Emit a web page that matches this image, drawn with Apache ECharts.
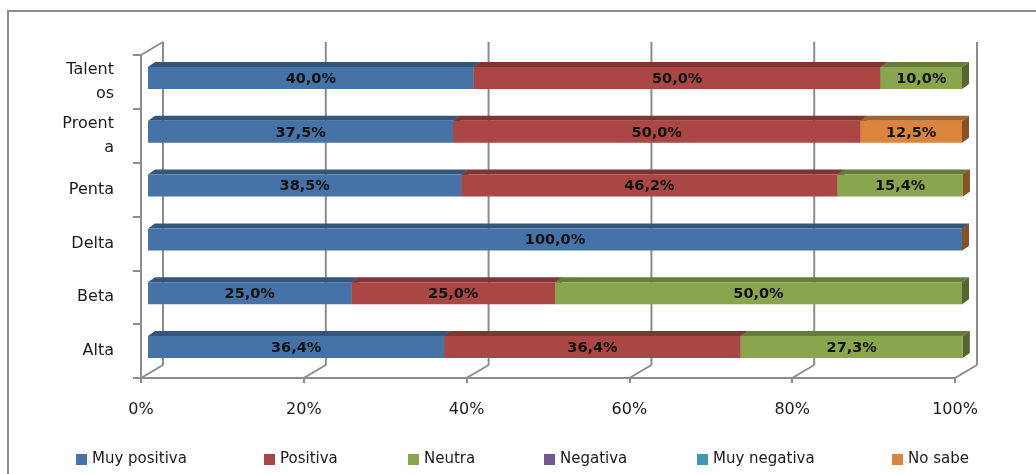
<!DOCTYPE html>
<html>
<head>
<meta charset="utf-8">
<script src="https://cdn.jsdelivr.net/npm/echarts@6/dist/echarts.min.js"></script>
<style>
html,body{margin:0;padding:0;background:#fff;}
#chart{width:1036px;height:474px;}
</style>
</head>
<body>
<div id="chart"></div>
<script>
// ---- data ----
const categories = ['Alta', 'Beta', 'Delta', 'Penta', 'Proenta', 'Talentos'];
const categoryTickLabels = ['Alta', 'Beta', 'Delta', 'Penta', 'Proent\na', 'Talent\nos'];
const seriesNames = ['Muy positiva', 'Positiva', 'Neutra', 'Negativa', 'Muy negativa', 'No sabe'];
const muyPositiva = [36.4, 25.0, 100.0, 38.5, 37.5, 40.0];
const positiva    = [36.4, 25.0, null, 46.2, 50.0, 50.0];
const neutra      = [27.3, 50.0, null, 15.4, null, 10.0];
const negativa    = [null, null, null, null, null, null];
const muyNegativa = [null, null, null, null, null, null];
const noSabe      = [null, null, 0, 0, 12.5, null];
const xTicks = [0, 20, 40, 60, 80, 100];
const xTickLabels = ['0%', '20%', '40%', '60%', '80%', '100%'];

// ---- styles ----
const colors = ['#4572A7', '#AA4643', '#89A54E', '#71588F', '#4198AF', '#DB843D'];
const legendLefts = [76, 264, 408, 544, 697, 892];
const WALL_DX = 22, WALL_DY = -13;   // depth of back wall
const BAR_DX = 7, BAR_DY = -4;       // bar front face offset
const FACE_DX = 7, FACE_DY = 5;      // bar depth
const FRAME = '#8c8c8c';

function shade(hex, f) {
  const n = parseInt(hex.slice(1), 16);
  const r = Math.round(((n >> 16) & 255) * f);
  const g = Math.round(((n >> 8) & 255) * f);
  const b = Math.round((n & 255) * f);
  return 'rgb(' + r + ',' + g + ',' + b + ')';
}
function fmt(v) { return v.toFixed(1).replace('.', ',') + '%'; }

const allValues = [muyPositiva, positiva, neutra, negativa, muyNegativa, noSabe];
const starts = categories.map(() => 0);
const barSeries = allValues.map((vals, si) => {
  const data = vals.map((v, ci) => {
    if (v === null) return [null, ci, null, null];
    const s = starts[ci];
    starts[ci] += v;
    return [s, ci, s + v, v];
  });
  const col = colors[si];
  return {
    type: 'custom',
    name: seriesNames[si],
    coordinateSystem: 'cartesian2d',
    itemStyle: { color: col },
    z: 3 + si,
    encode: { x: [0, 2], y: 1 },
    data: data,
    renderItem: function (params, api) {
      const val = api.value(3);
      if (val === null || isNaN(val)) return null;
      const c = api.value(1);
      const p0 = api.coord([api.value(0), c]);
      const p1 = api.coord([api.value(2), c]);
      const band = api.size([0, 1])[1];
      const h = band * 0.41;
      const x = p0[0] + BAR_DX;
      const y = p0[1] - h / 2 + BAR_DY;
      const w = p1[0] - p0[0];
      const children = [
        { type: 'polygon', shape: { points: [[x, y], [x + FACE_DX, y - FACE_DY], [x + w + FACE_DX, y - FACE_DY], [x + w, y]] },
          style: { fill: shade(col, 0.75) } },
        { type: 'polygon', shape: { points: [[x + w, y], [x + w + FACE_DX, y - FACE_DY], [x + w + FACE_DX, y + h - FACE_DY], [x + w, y + h]] },
          style: { fill: shade(col, 0.62) } },
        { type: 'rect', shape: { x: x, y: y, width: w, height: h }, style: { fill: col } }
      ];
      if (val > 0) {
        children.push({ type: 'text', style: { text: fmt(val), x: x + w / 2, y: y + h / 2 + 1,
          align: 'center', verticalAlign: 'middle', font: 'bold 14.5px "DejaVu Sans"', fill: '#111' } });
      }
      return { type: 'group', children: children };
    }
  };
});

const frameSeries = {
  type: 'custom',
  coordinateSystem: 'cartesian2d',
  silent: true,
  z: 1,
  encode: { x: 0, y: 1 },
  data: xTicks.map(v => [v, 0]),
  renderItem: function (params, api) {
    const v = api.value(0);
    const cs = params.coordSys;
    const x = api.coord([v, 0])[0];
    const top = cs.y, bottom = cs.y + cs.height;
    const st = { stroke: FRAME, lineWidth: 2 };
    const ch = [
      { type: 'line', shape: { x1: x + WALL_DX, y1: top + WALL_DY, x2: x + WALL_DX, y2: bottom + WALL_DY }, style: st },
      { type: 'line', shape: { x1: x, y1: bottom, x2: x + WALL_DX, y2: bottom + WALL_DY }, style: st }
    ];
    if (v === xTicks[0]) {
      ch.push({ type: 'line', shape: { x1: x, y1: top, x2: x + WALL_DX, y2: top + WALL_DY }, style: st });
    }
    return { type: 'group', children: ch };
  }
};

const legends = seriesNames.map((n, i) => ({
  data: [n], left: legendLefts[i], top: 452, padding: 0,
  icon: 'rect', itemWidth: 11, itemHeight: 11, itemGap: 5,
  selectedMode: false,
  textStyle: { color: '#1a1a1a', fontSize: 15, fontFamily: 'DejaVu Sans' }
}));

const chart = echarts.init(document.getElementById('chart'), null, { renderer: 'canvas' });
chart.setOption({
  animation: false,
  backgroundColor: '#fff',
  graphic: [{ type: 'rect', shape: { x: 8, y: 11, width: 1100, height: 600 },
    style: { fill: null, stroke: FRAME, lineWidth: 2 }, silent: true }],
  grid: { left: 141, right: 81, top: 55, bottom: 96 },
  legend: legends,
  xAxis: {
    type: 'value', min: 0, max: 100, interval: 20,
    axisLine: { show: true, lineStyle: { color: FRAME, width: 2 } },
    axisTick: { show: true, length: 5, lineStyle: { color: FRAME, width: 2 } },
    splitLine: { show: false },
    axisLabel: { margin: 24, color: '#1a1a1a', fontSize: 16, fontFamily: 'DejaVu Sans',
      formatter: function (v) { return xTickLabels[xTicks.indexOf(v)]; } }
  },
  yAxis: {
    type: 'category', data: categories,
    axisLine: { show: true, lineStyle: { color: FRAME, width: 2 } },
    axisTick: { show: true, length: 8, lineStyle: { color: FRAME, width: 2 } },
    splitLine: { show: false },
    axisLabel: { margin: 27, color: '#1a1a1a', fontSize: 16, fontFamily: 'DejaVu Sans', lineHeight: 24,
      formatter: function (v) { return categoryTickLabels[categories.indexOf(v)]; } }
  },
  series: [frameSeries].concat(barSeries)
});
</script>
</body>
</html>
